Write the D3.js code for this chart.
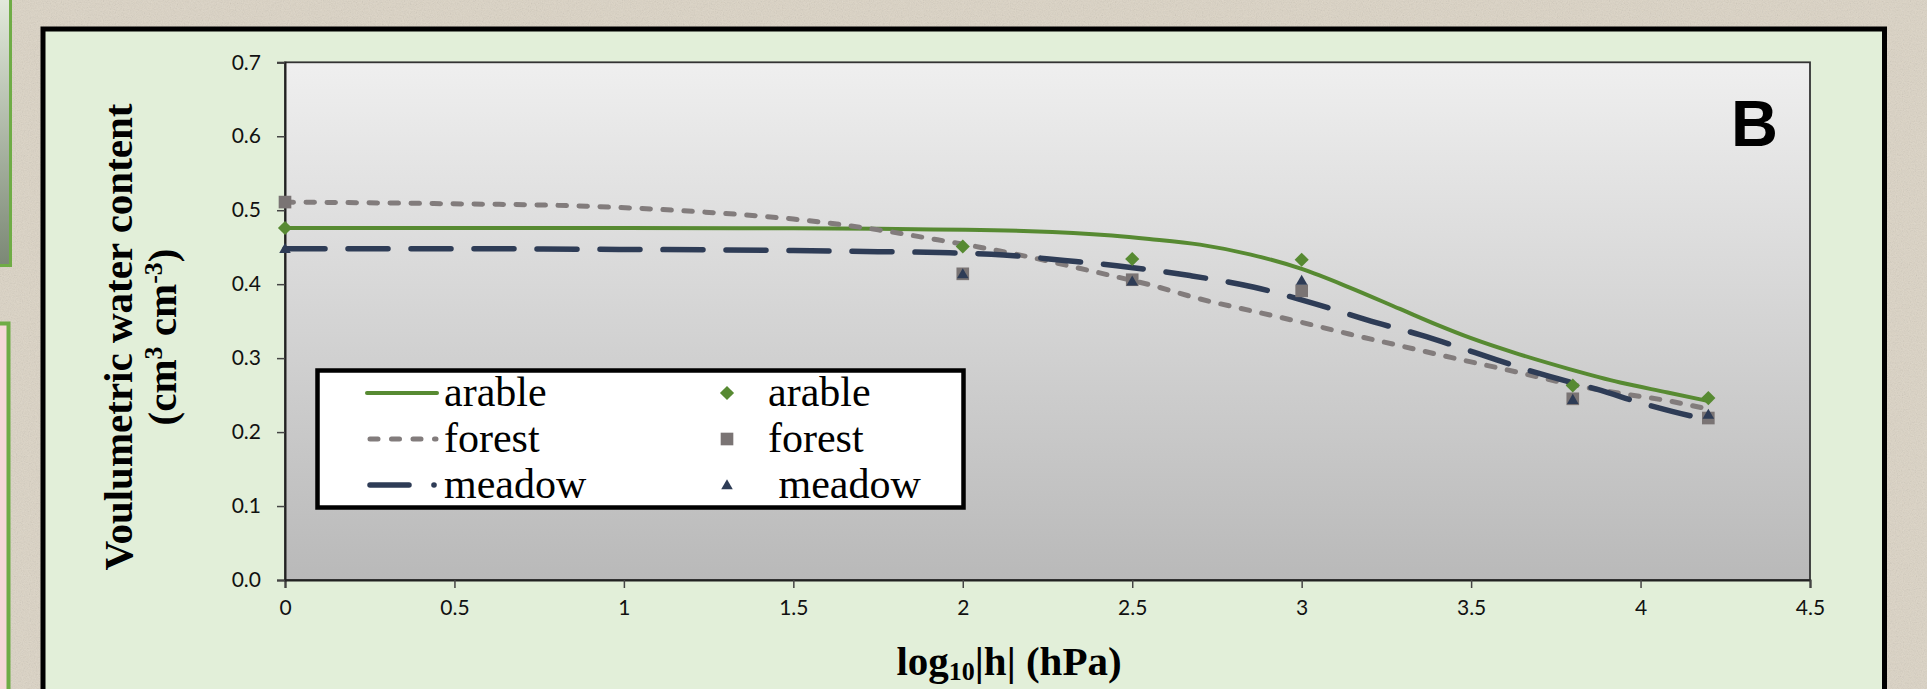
<!DOCTYPE html>
<html>
<head>
<meta charset="utf-8">
<script src="https://cdn.jsdelivr.net/npm/d3@7"></script>
<style>
  html, body { margin: 0; padding: 0; background: #dcd4c5; overflow: hidden; }
  svg { display: block; }
  text { white-space: pre; }
</style>
</head>
<body>
<div id="chart"></div>
<script>
// observed points
const series = ["arable", "forest", "meadow"];
const logH = [0, 2, 2.5, 3, 3.8, 4.2];
const arableObs = [0.476, 0.451, 0.434, 0.433, 0.263, 0.246];
const forestObs = [0.511, 0.414, 0.406, 0.391, 0.245, 0.219];
const meadowObs = [0.448, 0.414, 0.404, 0.405, 0.244, 0.224];

// fitted curves
const arableFit = [[0, 0.476], [0.5, 0.476], [1, 0.476], [1.5, 0.4755], [1.75, 0.4748], [2.2, 0.4716], [2.44, 0.4658], [2.55, 0.4612], [2.7, 0.4535], [2.85, 0.44], [3.0, 0.4206], [3.14, 0.3958], [3.29, 0.3665], [3.4, 0.345], [3.5, 0.327], [3.64, 0.3055], [3.79, 0.2852], [3.94, 0.267], [4.08, 0.2536], [4.2, 0.242]];
const forestFit = [[0, 0.511], [0.44, 0.509], [0.89, 0.5054], [1.22, 0.498], [1.5, 0.488], [1.75, 0.4735], [1.9, 0.462], [2.05, 0.45], [2.2, 0.4364], [2.34, 0.422], [2.49, 0.406], [2.55, 0.3994], [2.7, 0.38], [2.85, 0.3642], [3.0, 0.3484], [3.14, 0.3326], [3.29, 0.3168], [3.44, 0.301], [3.64, 0.2807], [3.79, 0.265], [3.94, 0.2523], [4.08, 0.2424], [4.2, 0.231]];
const meadowFit = [[0, 0.448], [0.5, 0.448], [1, 0.447], [1.5, 0.4455], [1.75, 0.444], [1.93, 0.4427], [2.12, 0.4396], [2.3, 0.432], [2.49, 0.423], [2.67, 0.4116], [2.86, 0.3958], [3.04, 0.3733], [3.22, 0.348], [3.35, 0.3315], [3.51, 0.3078], [3.69, 0.2807], [3.87, 0.258], [4.03, 0.2356], [4.17, 0.2197], [4.2, 0.217]];

const xTicks = [0, 0.5, 1, 1.5, 2, 2.5, 3, 3.5, 4, 4.5];
const xTickLabels = ["0", "0.5", "1", "1.5", "2", "2.5", "3", "3.5", "4", "4.5"];
const yTicks = [0, 0.1, 0.2, 0.3, 0.4, 0.5, 0.6, 0.7];
const yTickLabels = ["0.0", "0.1", "0.2", "0.3", "0.4", "0.5", "0.6", "0.7"];
const lineLabels = ["arable", "forest", "meadow"];
const markerLabels = ["arable", "forest", " meadow"];

const colors = { arable: "#578a32", forest: "#827c7c", meadow: "#2e3c56" };
const dashes = { arable: null, forest: "8.5 12.5", meadow: "40 23" };
const widths = { arable: 4, forest: 5, meadow: 5.5 };
const shapes = { arable: "diamond", forest: "square", meadow: "triangle" };

const width = 1927;
const height = 689;
const plot = { left: 285, right: 1810, top: 62.3, bottom: 580 };

const svg = d3.select("#chart").append("svg")
  .attr("width", width)
  .attr("height", height)
  .style("font-family", "Lato, sans-serif");

const defs = svg.append("defs");
const grad = defs.append("linearGradient").attr("id", "plotbg")
  .attr("x1", 0).attr("y1", 0).attr("x2", 0).attr("y2", 1);
grad.append("stop").attr("offset", "0%").attr("stop-color", "#efefef");
grad.append("stop").attr("offset", "100%").attr("stop-color", "#b9b9b9");

const side = defs.append("linearGradient").attr("id", "sidebg")
  .attr("x1", 0).attr("y1", 0).attr("x2", 0).attr("y2", 1);
side.append("stop").attr("offset", "0%").attr("stop-color", "#e3eadc");
side.append("stop").attr("offset", "100%").attr("stop-color", "#7b8875");

const grain = defs.append("filter").attr("id", "grain");
grain.append("feTurbulence").attr("type", "fractalNoise")
  .attr("baseFrequency", 0.85).attr("numOctaves", 2).attr("seed", 4);
grain.append("feColorMatrix").attr("type", "saturate").attr("values", 0);

// page background
svg.append("rect").attr("width", width).attr("height", height).attr("fill", "#dcd4c5");
svg.append("rect").attr("width", width).attr("height", height)
  .attr("filter", "url(#grain)").attr("opacity", 0.25);

// bits of the neighbouring panels on the far left
svg.append("rect").attr("x", -5).attr("y", -5).attr("width", 15.5).attr("height", 270.5)
  .attr("fill", "url(#sidebg)").attr("stroke", "#6fac46").attr("stroke-width", 3);
svg.append("rect").attr("x", -5).attr("y", 323.5).attr("width", 13.5).attr("height", 400)
  .attr("fill", "#f5d9d8").attr("stroke", "#6fac46").attr("stroke-width", 4);

// chart frame
svg.append("rect")
  .attr("x", 43).attr("y", 29).attr("width", 1841.5).attr("height", 720)
  .attr("fill", "#e2efd9").attr("stroke", "#000").attr("stroke-width", 5);

const x = d3.scaleLinear().domain([0, 4.5]).range([plot.left, plot.right]);
const y = d3.scaleLinear().domain([0, 0.7]).range([plot.bottom, plot.top]);

svg.append("rect")
  .attr("x", x(0)).attr("y", y(0.7))
  .attr("width", x(4.5) - x(0)).attr("height", y(0) - y(0.7))
  .attr("fill", "url(#plotbg)")
  .attr("stroke", "#333").attr("stroke-width", 1.8);

const xAxis = svg.append("g")
  .attr("transform", `translate(0,${plot.bottom})`)
  .call(d3.axisBottom(x).tickValues(xTicks).tickSize(8).tickPadding(14)
    .tickFormat((d, i) => xTickLabels[i]));
const yAxis = svg.append("g")
  .attr("transform", `translate(${plot.left},0)`)
  .call(d3.axisLeft(y).tickValues(yTicks).tickSize(8).tickPadding(16)
    .tickFormat((d, i) => yTickLabels[i]));

[xAxis, yAxis].forEach((a) => {
  a.select(".domain").attr("stroke", "#222").attr("stroke-width", 2);
  a.selectAll(".tick line").attr("stroke", "#444").attr("stroke-width", 1.5);
  a.selectAll(".tick text").attr("font-size", 21).attr("font-family", "Lato, sans-serif").attr("fill", "#111");
});
xAxis.selectAll(".tick text").attr("dy", "0.6em");

// fitted lines
const line = d3.line().x((d) => x(d[0])).y((d) => y(d[1])).curve(d3.curveMonotoneX);
const fits = { arable: arableFit, forest: forestFit, meadow: meadowFit };
const obs = { arable: arableObs, forest: forestObs, meadow: meadowObs };

series.forEach((s) => {
  svg.append("path")
    .datum(fits[s])
    .attr("d", line)
    .attr("fill", "none")
    .attr("stroke", colors[s])
    .attr("stroke-width", widths[s])
    .attr("stroke-linecap", s === "arable" ? "butt" : "round")
    .attr("stroke-dasharray", dashes[s]);
});

function marker(g, shape, color) {
  if (shape === "diamond") {
    g.append("path").attr("d", d3.symbol(d3.symbolSquare, 100)())
      .attr("transform", "rotate(45)").attr("fill", color);
  } else if (shape === "square") {
    g.append("path").attr("d", d3.symbol(d3.symbolSquare, 160)()).attr("fill", color);
  } else {
    g.append("path").attr("d", d3.symbol(d3.symbolTriangle, 58)())
      .attr("transform", "translate(0,1)").attr("fill", color);
  }
}

// observed markers: squares, then triangles, then diamonds on top
["forest", "meadow", "arable"].forEach((s) => {
  obs[s].forEach((v, i) => {
    const g = svg.append("g").attr("transform", `translate(${x(logH[i])},${y(v)})`);
    marker(g, shapes[s], s === "forest" ? "#7a7474" : colors[s]);
  });
});

// panel letter
svg.append("text")
  .attr("x", 1731).attr("y", 146)
  .attr("font-family", "Liberation Sans, Arial, sans-serif")
  .attr("font-weight", "bold").attr("font-size", 65)
  .text("B");

// legend
const legend = svg.append("g");
legend.append("rect")
  .attr("x", 317.5).attr("y", 370.5).attr("width", 646).attr("height", 137)
  .attr("fill", "#fff").attr("stroke", "#000").attr("stroke-width", 4.5);

const rowY = [393, 439, 485];
series.forEach((s, i) => {
  const ly = rowY[i];
  if (s === "meadow") {
    legend.append("line").attr("x1", 370).attr("x2", 409).attr("y1", ly).attr("y2", ly)
      .attr("stroke", colors[s]).attr("stroke-width", widths[s]).attr("stroke-linecap", "round");
    legend.append("circle").attr("cx", 434).attr("cy", ly).attr("r", 2.8).attr("fill", colors[s]);
  } else {
    legend.append("line").attr("x1", s === "forest" ? 370 : 367).attr("x2", s === "forest" ? 436 : 437)
      .attr("y1", ly).attr("y2", ly)
      .attr("stroke", colors[s]).attr("stroke-width", widths[s])
      .attr("stroke-linecap", "round")
      .attr("stroke-dasharray", s === "forest" ? "8 13.5" : null);
  }
  legend.append("text")
    .attr("x", 444).attr("y", ly + 13)
    .attr("font-family", "Liberation Serif, Times New Roman, serif")
    .attr("font-size", 42)
    .text(lineLabels[i]);

  const g = legend.append("g").attr("transform", `translate(727,${ly})`);
  marker(g, shapes[s], s === "forest" ? "#7a7474" : colors[s]);
  legend.append("text")
    .attr("x", 768).attr("y", ly + 13)
    .attr("font-family", "Liberation Serif, Times New Roman, serif")
    .attr("font-size", 42)
    .text(markerLabels[i]);
});

// axis titles
const yTitle = svg.append("g")
  .attr("font-family", "Liberation Serif, Times New Roman, serif")
  .attr("font-weight", "bold").attr("font-size", 41).attr("text-anchor", "middle");
yTitle.append("text")
  .attr("transform", "translate(132,337) rotate(-90)")
  .text("Voulumetric water content");
const yt2 = yTitle.append("text")
  .attr("transform", "translate(176,337) rotate(-90)");
yt2.append("tspan").text("(cm");
yt2.append("tspan").attr("dy", -14).attr("font-size", 26).text("3");
yt2.append("tspan").attr("dy", 14).text(" cm");
yt2.append("tspan").attr("dy", -14).attr("font-size", 26).text("-3");
yt2.append("tspan").attr("dy", 14).text(")");

const xTitle = svg.append("text")
  .attr("x", 1009).attr("y", 675)
  .attr("text-anchor", "middle")
  .attr("font-family", "Liberation Serif, Times New Roman, serif")
  .attr("font-weight", "bold").attr("font-size", 41);
xTitle.append("tspan").text("log");
xTitle.append("tspan").attr("dy", 5).attr("font-size", 26).text("10");
xTitle.append("tspan").attr("dy", -5).text("|h| (hPa)");
</script>
</body>
</html>
